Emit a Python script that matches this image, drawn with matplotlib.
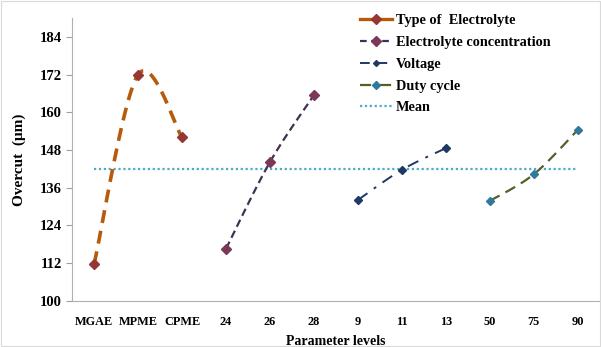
"""Main effects plot for overcut versus parameter levels."""
import matplotlib

matplotlib.use("Agg")
import matplotlib.pyplot as plt
import numpy as np
from matplotlib.lines import Line2D

plt.rcParams["font.family"] = ["Liberation Serif", "DejaVu Serif"]
plt.rcParams["font.weight"] = "bold"

# data
levels = ["MGAE", "MPME", "CPME", "24", "26", "28", "9", "11", "13", "50", "75", "90"]
electrolyte_type = [111.7, 172.0, 152.0]
electrolyte_conc = [116.6, 144.2, 165.5]
voltage = [132.1, 141.7, 148.6]
duty_cycle = [131.8, 140.3, 154.4]
mean_value = 142.0
yticks = [100, 112, 124, 136, 148, 160, 172, 184]


def smooth(xs, ys, n=40):
    """Excel-like smoothed line (Catmull-Rom through the points)."""
    p = np.column_stack([xs, ys]).astype(float)
    ext = np.vstack([p[0], p, p[-1]])
    out = []
    for i in range(1, len(ext) - 2):
        p0, p1, p2, p3 = ext[i - 1], ext[i], ext[i + 1], ext[i + 2]
        t = np.linspace(0, 1, n)[:, None]
        seg = 0.5 * ((2 * p1) + (-p0 + p2) * t
                     + (2 * p0 - 5 * p1 + 4 * p2 - p3) * t ** 2
                     + (-p0 + 3 * p1 - 3 * p2 + p3) * t ** 3)
        out.append(seg if i == 1 else seg[1:])
    pts = np.vstack(out)
    return pts[:, 0], pts[:, 1]


fig = plt.figure(figsize=(6.01, 3.47), dpi=100)
ax = fig.add_axes([0.12, 0.133, 0.878, 0.815])

x = np.arange(len(levels))
series = [
    (x[0:3], electrolyte_type, "#B65A0C", (0, (3.6, 2.2)), 2.6, "#953735", 5.5),
    (x[3:6], electrolyte_conc, "#403152", (0, (3.5, 2)), 1.6, "#7B3858", 5.5),
    (x[6:9], voltage, "#1F3864", (0, (6, 4, 1.5, 4)), 1.4, "#1F3864", 4),
    (x[9:12], duty_cycle, "#4F6228", (0, (5, 3)), 1.6, "#31799C", 4.5),
]
for xs, ys, lc, ls, lw, mc, ms in series:
    sx, sy = smooth(xs, ys)
    ax.plot(sx, sy, color=lc, linestyle=ls, linewidth=lw, zorder=3)
    ax.plot(xs, ys, linestyle="none", marker="D", markersize=ms,
            color=mc, markeredgecolor=mc, zorder=4)

ax.plot([x[0], x[-1]], [mean_value, mean_value], color="#4BACC6",
        linestyle=(0, (1, 1.2)), linewidth=1.6, zorder=2)

ax.set_xlim(-0.5, len(levels) - 0.5)
ax.set_ylim(100, 190)
ax.set_xticks(x)
ax.set_xticklabels(levels)
ax.set_yticks(yticks)
ax.tick_params(axis="x", length=0, pad=11, labelsize=8.8)
ax.tick_params(axis="y", length=4, color="#A0A0A0", labelsize=10.5)
for side in ("top", "right"):
    ax.spines[side].set_visible(False)
for side in ("left", "bottom"):
    ax.spines[side].set_color("#B0B0B0")
ax.set_xlabel("Parameter levels", fontsize=10, fontweight="bold", labelpad=5)
ax.set_ylabel("Overcut  (\u03bcm)", fontsize=11, fontweight="bold", labelpad=10)

handles = [
    Line2D([], [], color="#B65A0C", linewidth=2.4, marker="D", markersize=5,
           markerfacecolor="#953735", markeredgecolor="#953735"),
    Line2D([], [], color="#403152", linestyle=(0, (3, 2)), linewidth=1.6, marker="D",
           markersize=5, markerfacecolor="#7B3858", markeredgecolor="#7B3858"),
    Line2D([], [], color="#1F3864", linestyle=(0, (5, 4)), linewidth=1.4, marker="D",
           markersize=3, markerfacecolor="#1F3864", markeredgecolor="#1F3864"),
    Line2D([], [], color="#4F6228", linestyle=(0, (5, 4)), linewidth=1.6, marker="D",
           markersize=4, markerfacecolor="#31799C", markeredgecolor="#31799C"),
    Line2D([], [], color="#4BACC6", linestyle=(0, (1, 1.2)), linewidth=1.6),
]
labels = ["Type of  Electrolyte", "Electrolyte concentration", "Voltage",
          "Duty cycle", "Mean"]
ax.legend(handles, labels, loc="upper left", bbox_to_anchor=(0.535, 1.035),
          frameon=False, fontsize=10.3, handlelength=2.2, handletextpad=0.3,
          labelspacing=0.62, borderaxespad=0)

fig.patches.append(plt.Rectangle((0.002, 0.003), 0.996, 0.994, transform=fig.transFigure,
                                 fill=False, edgecolor="#D9D9D9", linewidth=0.8))
fig.savefig("out.png", dpi=100, facecolor="white")
